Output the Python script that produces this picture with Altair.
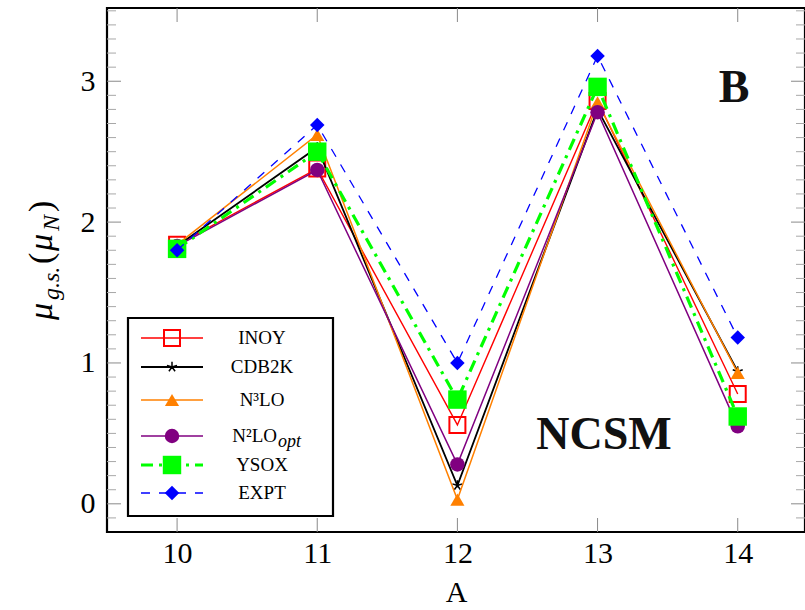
import altair as alt
import pandas as pd
import numpy as np

# ---- data ----
A = [10, 11, 12, 13, 14]
inoy = [1.84, 2.38, 0.56, 2.86, 0.78]
cdb2k = [1.83, 2.53, 0.13, 2.80, 0.94]
n3lo = [1.84, 2.62, 0.03, 2.85, 0.93]
n2lo = [1.83, 2.37, 0.28, 2.78, 0.55]
ysox = [1.81, 2.50, 0.74, 2.96, 0.62]
expt = [1.80, 2.69, 1.00, 3.18, 1.18]

x_ticks = [10, 11, 12, 13, 14]
y_ticks = [0, 1, 2, 3]
y_minor = [v for v in np.round(np.arange(-0.1, 3.55, 0.1), 1).tolist() if v not in y_ticks]

legend_labels = ["INOY", "CDB2K", "N³LO", "N²LO", "YSOX", "EXPT"]

W, H = 698, 524
FONT = "Liberation Serif"
xs = alt.Scale(domain=[9.5, 14.48], nice=False, zero=False)
ys = alt.Scale(domain=[-0.2, 3.52], nice=False, zero=False)

xax = alt.Axis(values=x_ticks, format="d", title="A", tickSize=0, domain=False, grid=False,
               labelFont=FONT, labelFontSize=30, labelColor="black", labelPadding=6,
               titleFont=FONT, titleFontSize=30, titleFontWeight="normal", titleColor="black",
               titlePadding=9)
yax = alt.Axis(values=y_ticks, format="d", title="", tickSize=0, domain=False, grid=False,
               labelFont=FONT, labelFontSize=30, labelColor="black", labelPadding=12)

STAR = "M0,0L0,-1M0,0L0.951,-0.309M0,0L0.588,0.809M0,0L-0.588,0.809M0,0L-0.951,-0.309"

series = [
    # name, values, color, line width, dash, shape, size, filled, marker stroke
    ("INOY", inoy, "#FF0000", 1.4, None, "square", 256, False, 2.0),
    ("CDB2K", cdb2k, "#000000", 1.8, None, STAR, 110, False, 1.5),
    ("N3LO", n3lo, "#FF8000", 1.5, None, "triangle-up", 200, True, 1.0),
    ("N2LO", n2lo, "#800080", 1.5, None, "circle", 210, True, 1.0),
    ("YSOX", ysox, "#00FF00", 3.2, [12, 6, 3, 6], "square", 340, True, 1.0),
    ("EXPT", expt, "#0000FF", 1.3, [9, 9], "diamond", 210, True, 1.0),
]

layers = []

# ---- inward ticks on the frame ----
def tick_df(vals):
    return pd.DataFrame({"t": vals})

Y = lambda: alt.Y("t:Q", scale=ys, axis=yax)
X = lambda: alt.X("t:Q", scale=xs, axis=xax)
tcol = "#8a8a8a"
layers.append(alt.Chart(tick_df(y_minor)).mark_rule(color="#a8a8a8", strokeWidth=1).encode(
    y=Y(), x=alt.value(0), x2=alt.value(9)))
layers.append(alt.Chart(tick_df(y_minor)).mark_rule(color="#a8a8a8", strokeWidth=1).encode(
    y=Y(), x=alt.value(W - 9), x2=alt.value(W)))
layers.append(alt.Chart(tick_df(y_ticks)).mark_rule(color=tcol, strokeWidth=1).encode(
    y=Y(), x=alt.value(0), x2=alt.value(14)))
layers.append(alt.Chart(tick_df(y_ticks)).mark_rule(color=tcol, strokeWidth=1).encode(
    y=Y(), x=alt.value(W - 14), x2=alt.value(W)))
layers.append(alt.Chart(tick_df(x_ticks)).mark_rule(color=tcol, strokeWidth=1).encode(
    x=X(), y=alt.value(0), y2=alt.value(14)))
layers.append(alt.Chart(tick_df(x_ticks)).mark_rule(color=tcol, strokeWidth=1).encode(
    x=X(), y=alt.value(H - 14), y2=alt.value(H)))

# ---- data lines and markers ----
for name, vals, color, lw, dash, shape, size, filled, mw in series:
    df = pd.DataFrame({"t": A, "v": vals})
    enc = dict(x=alt.X("t:Q", scale=xs, axis=xax), y=alt.Y("v:Q", scale=ys, axis=yax))
    lkw = dict(color=color, strokeWidth=lw)
    if dash:
        lkw["strokeDash"] = dash
    layers.append(alt.Chart(df).mark_line(**lkw).encode(**enc))
    pkw = dict(shape=shape, size=size, filled=filled, opacity=1, strokeWidth=mw, color=color)
    layers.append(alt.Chart(df).mark_point(**pkw).encode(**enc))

# ---- legend ----
one = pd.DataFrame({"k": [0]})
layers.append(alt.Chart(one).mark_rect(fill="white", stroke="black", strokeWidth=2.2).encode(
    x=alt.value(21), x2=alt.value(226), y=alt.value(310), y2=alt.value(508)))
rows_y = [330, 359, 392, 428, 457, 485]
for (name, vals, color, lw, dash, shape, size, filled, mw), ly, lab in zip(series, rows_y, legend_labels):
    lkw = dict(color=color, strokeWidth=lw)
    if dash:
        lkw["strokeDash"] = dash
    layers.append(alt.Chart(one).mark_rule(**lkw).encode(
        x=alt.value(34), x2=alt.value(96), y=alt.value(ly)))
    layers.append(alt.Chart(one).mark_point(shape=shape, size=size, filled=filled, opacity=1,
                                            strokeWidth=mw, color=color).encode(
        x=alt.value(65), y=alt.value(ly)))
    if name == "N2LO":
        layers.append(alt.Chart(one).mark_text(text=lab, font=FONT, fontSize=19, align="right",
                                               baseline="middle", color="black").encode(
            x=alt.value(170), y=alt.value(ly)))
        layers.append(alt.Chart(one).mark_text(text="opt", font=FONT, fontSize=18, fontStyle="italic",
                                               align="left", baseline="middle", color="black").encode(
            x=alt.value(171), y=alt.value(ly + 6)))
    else:
        layers.append(alt.Chart(one).mark_text(text=lab, font=FONT, fontSize=19, align="center",
                                               baseline="middle", color="black").encode(
            x=alt.value(155), y=alt.value(ly)))

# ---- annotations ----
layers.append(alt.Chart(one).mark_text(text="B", font=FONT, fontSize=46, fontWeight="bold",
                                       align="center", baseline="middle", color="#111").encode(
    x=alt.value(627), y=alt.value(80)))
layers.append(alt.Chart(one).mark_text(text="NCSM", font=FONT, fontSize=46, fontWeight="bold",
                                       align="center", baseline="middle", color="#111").encode(
    x=alt.value(497), y=alt.value(427)))

# ---- y axis title  μ_{g.s.}(μ_N), rotated ----
ax0, ay0 = -55, 312
pieces = [
    ("μ", 34, "italic", 0, 0),
    ("g.s.", 24, "italic", 20, 7),
    ("(", 34, "normal", 56, 0),
    ("μ", 34, "italic", 69, 0),
    ("N", 24, "italic", 89, 7),
    (")", 34, "normal", 108, 0),
]
for txt, fs, st, dx, dy in pieces:
    layers.append(alt.Chart(one).mark_text(text=txt, font=FONT, fontSize=fs, fontStyle=st,
                                           angle=270, align="left", baseline="alphabetic",
                                           dx=dx, dy=dy, color="black").encode(
        x=alt.value(ax0), y=alt.value(ay0)))

chart = alt.layer(*layers).properties(
    width=W, height=H,
    background="white",
    padding={"left": 107, "top": 8, "right": 0, "bottom": 78},
    autosize=alt.AutoSizeParams(type="none"),
).configure_view(
    stroke="black", strokeWidth=2.2
).configure_axis(
    labelFont=FONT, labelFontSize=30, labelColor="black",
    titleFont=FONT, titleFontSize=30, titleFontWeight="normal", titleColor="black",
)

chart.save("out.html", embed_options={"renderer": "svg", "actions": False})
